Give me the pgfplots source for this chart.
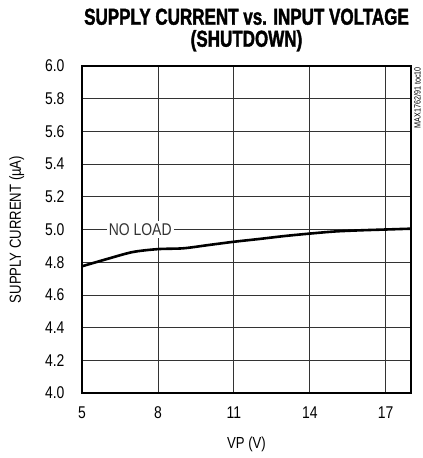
\documentclass[border=0pt]{standalone}
\usepackage{pgfplots}
\pgfplotsset{compat=1.18}
\usepackage{fontspec}
\setmainfont{Liberation Sans}[FakeStretch=0.82]
\newfontfamily\titlefont{Liberation Sans Bold}[FakeStretch=0.74,FakeBold=1.6]
\newfontfamily\notefont{Liberation Sans}[FakeStretch=0.8]
\begin{document}
\begin{tikzpicture}
\begin{axis}[
  at={(0,0)}, anchor=south west,
  scale only axis, width=329pt, height=327pt,
  xmin=5, xmax=18, ymin=4.0, ymax=6.0,
  xtick={5,8,11,14,17}, ytick={4.0,4.2,...,6.01},
  yticklabel style={/pgf/number format/fixed,/pgf/number format/fixed zerofill,/pgf/number format/precision=1, xshift=-14pt},
  /pgf/number format/assume math mode=true,
  ticklabel style={font=\fontsize{17}{17}\selectfont},
  major tick length=0pt,
  grid=major,
  grid style={black!80, line width=0.8pt},
  axis line style={line width=2pt},
  xticklabel style={yshift=-10pt},
  xlabel={VP (V)},
  ylabel={SUPPLY CURRENT (\textmu A)},
  label style={font=\fontsize{16}{16}\selectfont},
  xlabel style={yshift=-11pt},
  ylabel style={yshift=14pt},
  title={SUPPLY CURRENT vs. INPUT VOLTAGE\\(SHUTDOWN)},
  title style={align=center, font=\titlefont\fontsize{23}{22}\selectfont, yshift=5pt},
  clip=false,
]
\addplot[black, line width=2.6pt, smooth] coordinates {
(5,4.775)(6,4.82)(7,4.862)(8,4.88)(9,4.885)(10,4.905)(11,4.925)(12,4.942)(13,4.96)(14,4.975)(15,4.988)(16,4.995)(17,5.0)(18,5.005)
};
\node[fill=white, inner sep=2pt, text=black!80, font=\fontsize{17}{17}\selectfont] at (axis cs:7.3,5.0) {NO LOAD};
\node[rotate=90, font=\notefont\fontsize{9}{9}\selectfont, anchor=north east, inner sep=0pt] at ([xshift=3pt,yshift=-1pt]rel axis cs:1,1) {MAX1762/91 toc10};
\end{axis}
\pgfresetboundingbox
\path (-82pt,-65pt) rectangle (341pt,393pt);
\end{tikzpicture}
\end{document}
